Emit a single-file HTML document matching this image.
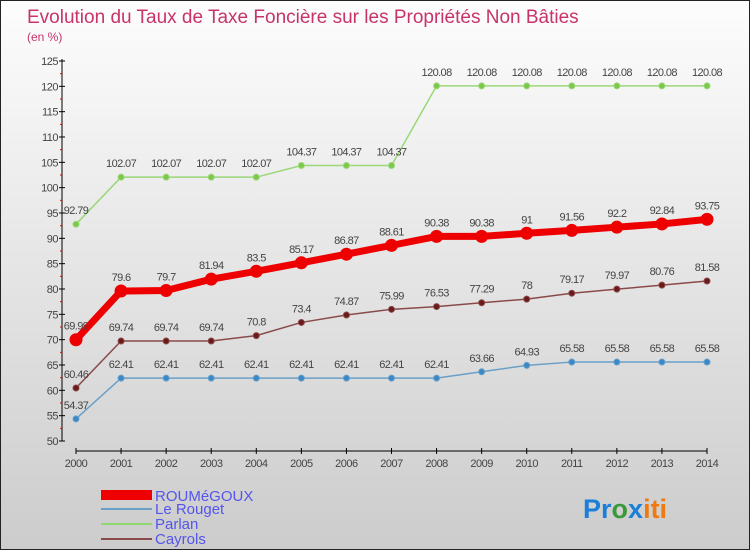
<!DOCTYPE html>
<html><head><meta charset="utf-8"><style>
body{margin:0}
#c{width:750px;height:550px;position:relative;box-sizing:border-box;border:1px solid #222;background:linear-gradient(#fdfdfd,#cccccc);font-family:"Liberation Sans",sans-serif;overflow:hidden}
svg text{font-family:"Liberation Sans",sans-serif}
</style></head><body>
<div id="c">
<svg width="750" height="550" id="s">
<text x="26" y="22" font-size="19" fill="#c8336a">Evolution du Taux de Taxe Foncière sur les Propriétés Non Bâties</text>
<text x="26" y="40" font-size="12" fill="#c8336a">(en %)</text>
<g id="g"></g>
<g>
<rect x="100" y="489" width="51" height="10" fill="#e00"/>
<text x="154" y="500" font-size="15" fill="#5555ee">ROUMéGOUX</text>
<line x1="100" x2="151" y1="545" y2="545" stroke="#6aa0c8" stroke-width="2" transform="translate(0,-37)"/>
<text x="154" y="513" font-size="15" fill="#5555ee">Le Rouget</text>
<line x1="100" x2="151" y1="523" y2="523" stroke="#90d870" stroke-width="2"/>
<text x="154" y="528" font-size="15" fill="#5555ee">Parlan</text>
<line x1="100" x2="151" y1="538" y2="538" stroke="#8a4a4a" stroke-width="2"/>
<text x="154" y="543" font-size="15" fill="#5555ee">Cayrols</text>
</g>
<text x="582" y="517" font-size="27" font-weight="bold"><tspan fill="#1a7fd8">Pr</tspan><tspan fill="#3a9a3a">o</tspan><tspan fill="#1a7fd8">x</tspan><tspan fill="#f07a10">iti</tspan></text>
</svg>
</div>
<script>
const years=[2000,2001,2002,2003,2004,2005,2006,2007,2008,2009,2010,2011,2012,2013,2014];
const roumegoux=[69.99,79.6,79.7,81.94,83.5,85.17,86.87,88.61,90.38,90.38,91,91.56,92.2,92.84,93.75];
const leRouget=[54.37,62.41,62.41,62.41,62.41,62.41,62.41,62.41,62.41,63.66,64.93,65.58,65.58,65.58,65.58];
const parlan=[92.79,102.07,102.07,102.07,102.07,104.37,104.37,104.37,120.08,120.08,120.08,120.08,120.08,120.08,120.08];
const cayrols=[60.46,69.74,69.74,69.74,70.8,73.4,74.87,75.99,76.53,77.29,78,79.17,79.97,80.76,81.58];
const yTicks=[50,55,60,65,70,75,80,85,90,95,100,105,110,115,120,125];
const NS="http://www.w3.org/2000/svg";
const g=document.getElementById('g');
const X=i=>75+i*(706-75)/(years.length-1);
const Y=v=>440-(v-50)*(380/75);
function mk(t,a,p){const e=document.createElementNS(NS,t);for(const k in a)e.setAttribute(k,a[k]);(p||g).appendChild(e);return e;}
let e=mk('line',{x1:61,x2:61,y1:58,y2:440,stroke:'#000'});

e=mk('line',{x1:75,x2:706,y1:450,y2:450,stroke:'#000'});

yTicks.forEach(v=>{
 const t=mk('line',{x1:58,x2:64,y1:Y(v),y2:Y(v),stroke:'#000'});
 
 const m=mk('line',{x1:59,x2:61,y1:Y(v+2.5),y2:Y(v+2.5),stroke:'#e00'});
 if(v===125)m.remove();
 const l=mk('text',{x:57,y:Y(v)+4,'font-size':11,fill:'#444','text-anchor':'end','letter-spacing':'-0.5'});
 l.textContent=v;
 
});
years.forEach((y,i)=>{
 const t=mk('line',{x1:X(i),x2:X(i),y1:447,y2:453,stroke:'#000'});
 
 const l=mk('text',{x:X(i),y:466,'font-size':11,fill:'#444','text-anchor':'middle','letter-spacing':'-0.5'});
 l.textContent=y;
 
});
function series(vals,name,col,fill,w,r){
 const p=mk('polyline',{points:vals.map((v,i)=>X(i)+','+Y(v)).join(' '),fill:'none',stroke:col,'stroke-width':w,'stroke-linejoin':'round'});
 
 vals.forEach((v,i)=>{
  const c=mk('circle',{cx:X(i),cy:Y(v),r:r,fill:fill,stroke:col,'stroke-width':1});
  
  const l=mk('text',{x:X(i),y:Y(v)-10,'font-size':11,fill:'#444','text-anchor':'middle','letter-spacing':'-0.6'});
  l.textContent=String(v);
  
 });
}
series(parlan,'parlan','#9ad878','#7cc84a',1.5,3);
series(leRouget,'le-rouget','#6aa0c8','#3a88c8',1.5,3);
series(cayrols,'cayrols','#8a4a4a','#6a1a1a',1.5,3);
series(roumegoux,'roumegoux','#ee0000','#ee0000',7,6);
</script>
</body></html>
